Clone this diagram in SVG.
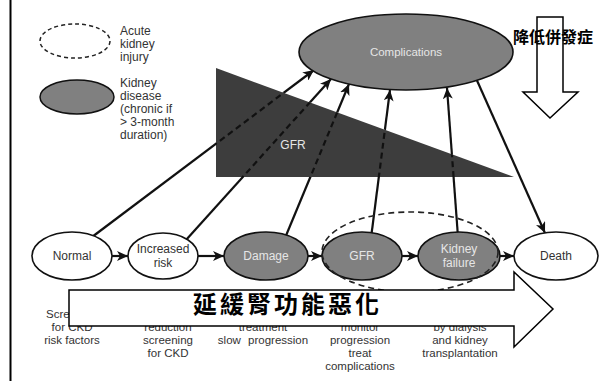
<svg xmlns="http://www.w3.org/2000/svg" width="607" height="381" viewBox="0 0 607 381">
  <style>
    .lbl { font-family: "Liberation Sans", Arial, sans-serif; font-size: 12px; fill: #333; }
    .lbl-in { font-family: "Liberation Sans", Arial, sans-serif; font-size: 12px; fill: #e6e6e6; text-anchor: middle; }
    .lbl-c { font-family: "Liberation Sans", Arial, sans-serif; font-size: 12px; fill: #333; text-anchor: middle; }
    .act { font-family: "Liberation Sans", Arial, sans-serif; font-size: 11.5px; fill: #333; text-anchor: middle; }
    .node-w { fill: #fff; stroke: #111; stroke-width: 1.6; }
    .node-g { fill: #808080; stroke: #111; stroke-width: 1.6; }
    .conn { stroke: #111; stroke-width: 2.2; fill: none; }
    .cjk { font-family: "Noto Sans CJK TC", "Noto Sans CJK SC", sans-serif; font-weight: 700; fill: #000; }
  </style>
  <defs>
    <marker id="arrow" markerUnits="userSpaceOnUse" markerWidth="12" markerHeight="10" refX="11" refY="5" orient="auto">
      <path d="M0,0 L11,5 L0,10 L3,5 z" fill="#111"/>
    </marker>
    <clipPath id="triClip">
      <polygon points="216,68 514,177 216,177"/>
    </clipPath>
    <mask id="outsideTri" maskUnits="userSpaceOnUse" x="0" y="0" width="607" height="381">
      <rect x="0" y="0" width="607" height="381" fill="#fff"/>
      <polygon points="216,68 514,177 216,177" fill="#000"/>
    </mask>
  </defs>

  <rect x="0" y="0" width="607" height="381" fill="#fff"/>
  <!-- frame line on the left -->
  <line x1="10.5" y1="0" x2="10.5" y2="381" stroke="#000" stroke-width="2"/>

  <!-- legend -->
  <g id="legend-aki">
    <ellipse cx="75" cy="41" rx="35" ry="17" fill="none" stroke="#222" stroke-width="1.5" stroke-dasharray="4,3"/>
    <text class="lbl" x="120" y="35">Acute</text>
    <text class="lbl" x="120" y="48">kidney</text>
    <text class="lbl" x="120" y="61">injury</text>
  </g>
  <g id="legend-ckd">
    <ellipse cx="77" cy="97" rx="37" ry="17" fill="#808080" stroke="#111" stroke-width="1.5"/>
    <text class="lbl" x="120" y="87">Kidney</text>
    <text class="lbl" x="120" y="100">disease</text>
    <text class="lbl" x="120" y="113">(chronic if</text>
    <text class="lbl" x="120" y="126">&gt; 3-month</text>
    <text class="lbl" x="120" y="139">duration)</text>
  </g>

  <!-- GFR decline wedge -->
  <g id="gfr-wedge">
    <polygon points="216,68 514,177 216,177" fill="#3d3d3d"/>
    <text class="lbl-in" x="293" y="149" fill="#cfcfcf">GFR</text>
  </g>

  <!-- connectors -->
  <g id="connectors">
    <g mask="url(#outsideTri)">
      <line class="conn" x1="92" y1="237" x2="314" y2="70" marker-end="url(#arrow)"/>
      <line class="conn" x1="186" y1="240" x2="331" y2="79" marker-end="url(#arrow)"/>
      <line class="conn" x1="285" y1="238" x2="349" y2="84" marker-end="url(#arrow)"/>
      <line class="conn" x1="371" y1="238" x2="390" y2="90" marker-end="url(#arrow)"/>
      <line class="conn" x1="458" y1="237" x2="447" y2="88" marker-end="url(#arrow)"/>
      <line class="conn" x1="475" y1="76" x2="545" y2="233" marker-end="url(#arrow)"/>
    </g>
    <g clip-path="url(#triClip)" stroke-dasharray="6,4">
      <line class="conn" x1="92" y1="237" x2="314" y2="70"/>
      <line class="conn" x1="186" y1="240" x2="331" y2="79"/>
      <line class="conn" x1="285" y1="238" x2="349" y2="84"/>
      <line class="conn" x1="371" y1="238" x2="390" y2="90"/>
      <line class="conn" x1="458" y1="237" x2="447" y2="88"/>
    </g>
    <line class="conn" x1="112" y1="256" x2="128" y2="256" marker-end="url(#arrow)"/>
    <line class="conn" x1="198" y1="256" x2="224" y2="256" marker-end="url(#arrow)"/>
    <line class="conn" x1="308" y1="256" x2="322" y2="256" marker-end="url(#arrow)"/>
    <line class="conn" x1="402" y1="256" x2="418" y2="256" marker-end="url(#arrow)"/>
    <line class="conn" x1="500" y1="256" x2="514" y2="256" marker-end="url(#arrow)"/>
  </g>

  <!-- nodes -->
  <g id="complications">
    <ellipse class="node-g" cx="406" cy="52" rx="107" ry="38" fill="#8a8a8a"/>
    <text class="lbl-in" x="406" y="56" style="font-size:11.5px">Complications</text>
  </g>
  <g id="normal">
    <ellipse class="node-w" cx="72" cy="256" rx="40" ry="24"/>
    <text class="lbl-c" x="72" y="260">Normal</text>
  </g>
  <g id="increased-risk">
    <ellipse class="node-w" cx="163" cy="256" rx="35" ry="23"/>
    <text class="lbl-c" x="163" y="253">Increased</text>
    <text class="lbl-c" x="163" y="267">risk</text>
  </g>
  <g id="damage">
    <ellipse class="node-g" cx="266" cy="256" rx="42" ry="24"/>
    <text class="lbl-in" x="266" y="260">Damage</text>
  </g>
  <g id="gfr">
    <ellipse class="node-g" cx="362" cy="256" rx="40" ry="24"/>
    <text class="lbl-in" x="362" y="260">GFR</text>
  </g>
  <g id="kidney-failure">
    <ellipse class="node-g" cx="459" cy="256" rx="41" ry="24"/>
    <text class="lbl-in" x="459" y="253">Kidney</text>
    <text class="lbl-in" x="459" y="267">failure</text>
  </g>
  <g id="death">
    <ellipse class="node-w" cx="556" cy="256" rx="42" ry="24"/>
    <text class="lbl-c" x="556" y="260">Death</text>
  </g>

  <!-- acute kidney injury outline around GFR / kidney failure -->
  <ellipse cx="410" cy="252" rx="88" ry="40" fill="none" stroke="#222" stroke-width="1.6" stroke-dasharray="6,4"/>

  <!-- actions under each stage -->
  <g id="actions">
    <text class="act" x="72" y="318">Screening</text>
    <text class="act" x="72" y="331">for CKD</text>
    <text class="act" x="72" y="344">risk factors</text>
    <text class="act" x="168" y="331">reduction</text>
    <text class="act" x="168" y="344">screening</text>
    <text class="act" x="168" y="357">for CKD</text>
    <text class="act" x="263" y="331">treatment</text>
    <text class="act" x="263" y="344" word-spacing="4">slow progression</text>
    <text class="act" x="360" y="331">monitor</text>
    <text class="act" x="360" y="344">progression</text>
    <text class="act" x="360" y="357">treat</text>
    <text class="act" x="360" y="370">complications</text>
    <text class="act" x="460" y="331">by dialysis</text>
    <text class="act" x="460" y="344">and kidney</text>
    <text class="act" x="460" y="357">transplantation</text>
  </g>

  <!-- slow progression arrow -->
  <g id="slow-progression">
    <polygon points="69,290 514,290 514,272 553,309 514,347 514,326 69,326" fill="#fff" stroke="#000" stroke-width="1.5"/>
    <text class="cjk" x="193" y="313" font-size="24" letter-spacing="3">延緩腎功能惡化</text>
  </g>

  <!-- reduce complications arrow -->
  <g id="reduce-complications">
    <polygon points="537,17 563,17 563,92 578,92 550,118 523,92 537,92" fill="#fff" stroke="#000" stroke-width="1.5"/>
    <text class="cjk" x="513" y="43" font-size="16" font-weight="900">降低併發症</text>
  </g>
</svg>
